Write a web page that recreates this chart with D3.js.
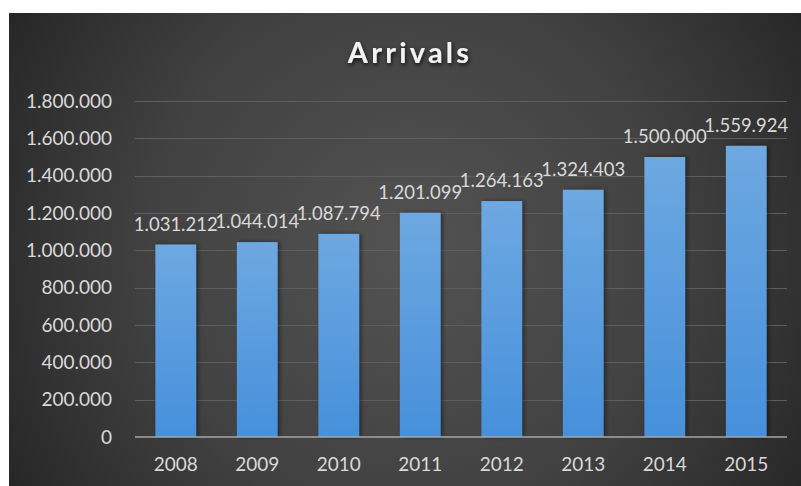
<!DOCTYPE html>
<html>
<head>
<meta charset="utf-8">
<script src="https://cdn.jsdelivr.net/npm/d3@7"></script>
<style>
  html, body { margin: 0; padding: 0; background: #ffffff; }
  svg { display: block; }
</style>
</head>
<body>
<svg id="chart" width="801" height="486"></svg>
<script>
// Annual arrivals, 2008–2015
const years = ["2008", "2009", "2010", "2011", "2012", "2013", "2014", "2015"];
const arrivals = [1031212, 1044014, 1087794, 1201099, 1264163, 1324403, 1500000, 1559924];
const yTicks = [0, 200000, 400000, 600000, 800000, 1000000, 1200000, 1400000, 1600000, 1800000];
const titleText = "Arrivals";

const W = 801, H = 486;
const panel = { x: 9, y: 13, w: W - 9, h: H - 13 };
const plot = { left: 135, right: 787, top: 101, bottom: 437 };

const svg = d3.select("#chart");
const defs = svg.append("defs");

// Dark panel with a soft lighter centre
const bg = defs.append("radialGradient").attr("id", "bgGrad")
  .attr("gradientUnits", "userSpaceOnUse")
  .attr("cx", 410).attr("cy", 250).attr("r", 480);
bg.append("stop").attr("offset", "0%").attr("stop-color", "#535353");
bg.append("stop").attr("offset", "55%").attr("stop-color", "#414141");
bg.append("stop").attr("offset", "100%").attr("stop-color", "#252525");

const barGrad = defs.append("linearGradient").attr("id", "barGrad")
  .attr("x1", 0).attr("y1", 0).attr("x2", 0).attr("y2", 1);
barGrad.append("stop").attr("offset", "0%").attr("stop-color", "#6da8e1");
barGrad.append("stop").attr("offset", "100%").attr("stop-color", "#4690db");

const shadow = defs.append("filter").attr("id", "barShadow")
  .attr("x", "-20%").attr("y", "-5%").attr("width", "150%").attr("height", "110%");
shadow.append("feDropShadow").attr("dx", 2).attr("dy", 0).attr("stdDeviation", 2)
  .attr("flood-color", "#000").attr("flood-opacity", 0.45);

const glow = defs.append("filter").attr("id", "titleShadow")
  .attr("x", "-20%").attr("y", "-40%").attr("width", "140%").attr("height", "180%");
glow.append("feDropShadow").attr("dx", 1).attr("dy", 2).attr("stdDeviation", 2)
  .attr("flood-color", "#000").attr("flood-opacity", 0.8);

svg.append("rect")
  .attr("x", panel.x).attr("y", panel.y)
  .attr("width", panel.w).attr("height", panel.h)
  .attr("fill", "url(#bgGrad)");

// Scales
const x = d3.scaleBand().domain(years)
  .range([plot.left, plot.right]).paddingInner(0.5).paddingOuter(0.25);
const y = d3.scaleLinear().domain([0, 1800000]).range([plot.bottom, plot.top]);

const fmt = v => d3.format(",")(v).replace(/,/g, ".");
const FONT = "Lato, 'Open Sans', sans-serif";

// Horizontal gridlines
svg.append("g")
  .selectAll("line")
  .data(yTicks.filter(t => t > 0))
  .join("line")
  .attr("x1", plot.left).attr("x2", plot.right)
  .attr("y1", d => Math.round(y(d)) + 0.5).attr("y2", d => Math.round(y(d)) + 0.5)
  .attr("stroke", "#5e5e5e").attr("stroke-width", 1);

// Y axis labels
const yAxis = svg.append("g")
  .attr("transform", `translate(${plot.left},0)`)
  .call(d3.axisLeft(y).tickValues(yTicks).tickFormat(fmt).tickSize(0).tickPadding(23));
yAxis.select(".domain").remove();
yAxis.selectAll("text")
  .attr("fill", "#d9d9d9").attr("font-family", FONT).attr("font-size", "19px");

// Bars
svg.append("g")
  .selectAll("rect")
  .data(arrivals)
  .join("rect")
  .attr("x", (d, i) => x(years[i]))
  .attr("y", d => y(d))
  .attr("width", x.bandwidth())
  .attr("height", d => y(0) - y(d))
  .attr("fill", "url(#barGrad)")
  .attr("filter", "url(#barShadow)");

// Baseline / X axis
const xAxis = svg.append("g")
  .attr("transform", `translate(0,${plot.bottom})`)
  .call(d3.axisBottom(x).tickSize(0).tickPadding(21));
xAxis.select(".domain")
  .attr("d", `M${plot.left},0H${plot.right}`)
  .attr("stroke", "#a6a6a6").attr("stroke-width", 1.5);
xAxis.selectAll("text")
  .attr("fill", "#d9d9d9").attr("font-family", FONT).attr("font-size", "19px");

// Value labels above each bar
svg.append("g")
  .selectAll("text")
  .data(arrivals)
  .join("text")
  .attr("x", (d, i) => x(years[i]) + x.bandwidth() / 2)
  .attr("y", d => y(d) - 14)
  .attr("text-anchor", "middle")
  .attr("fill", "#d9d9d9")
  .attr("font-family", FONT)
  .attr("font-size", "18.5px")
  .text(fmt);

// Title
svg.append("text")
  .attr("x", 410).attr("y", 63)
  .attr("text-anchor", "middle")
  .attr("fill", "#f2f2f2")
  .attr("font-family", FONT)
  .attr("font-weight", "bold")
  .attr("font-size", "29px")
  .attr("letter-spacing", "3.2px")
  .attr("filter", "url(#titleShadow)")
  .text(titleText);
</script>
</body>
</html>
